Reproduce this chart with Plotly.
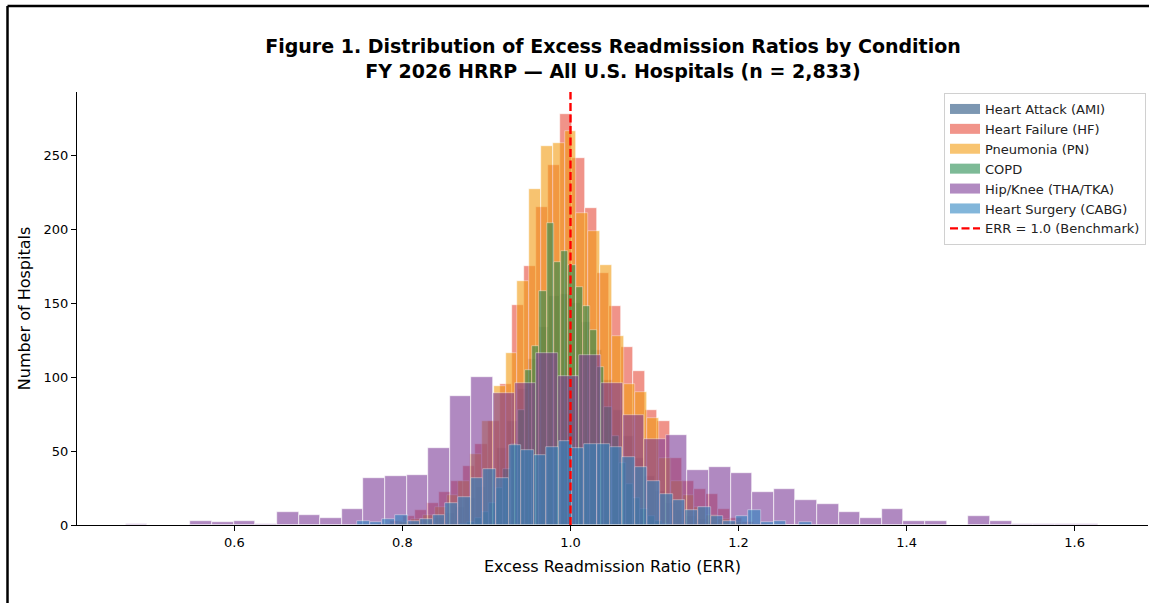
import numpy as np
import plotly.graph_objects as go

# ---- Data (histogram counts) ----
series_names = ["Heart Attack (AMI)", "Heart Failure (HF)", "Pneumonia (PN)",
                "COPD", "Hip/Knee (THA/TKA)", "Heart Surgery (CABG)"]

ami_start, ami_width = 0.8000, 0.0125
ami_counts = [1, 2, 3, 5, 8, 12, 18, 26, 38, 52, 70, 92, 112, 134, 155, 156,
              150, 137, 118, 98, 78, 60, 45, 33, 23, 15, 10, 6, 4, 2, 1, 1]

hf_start, hf_width = 0.77128, 0.01444
hf_counts = [1, 3, 6, 10, 15, 22, 30, 40, 55, 70, 95,
             149, 175, 215, 243, 278, 248, 214, 170, 148, 120, 104, 78, 70,
             45, 30, 24, 21, 11, 5, 2, 1]

pn_start, pn_width = 0.78226, 0.014048
pn_counts = [1, 2, 4, 7, 12, 20, 30, 48, 70,
             94, 116, 165, 227, 256, 258, 266, 211, 199, 176, 128, 95, 90, 72,
             45, 30, 20, 12, 7, 4, 2, 1]

copd_start, copd_width = 0.86869, 0.008583
copd_counts = [1, 2, 5, 9, 15, 25, 38, 55, 78, 105, 121,
               158, 204, 178, 185, 176, 161, 148, 132, 107, 80, 60, 42, 28,
               18, 11, 6, 3, 1]

hip_start, hip_width = 0.47060, 0.025714
hip_counts = [1, 0, 0, 3, 2, 3, 1, 9, 7, 5, 11, 32, 33, 34, 52, 87, 100, 89,
              96, 116, 101, 115, 96, 74, 58, 61, 37, 39, 35, 22, 24, 17, 14,
              9, 5, 11, 3, 3, 0, 6, 3, 1, 1, 1, 1]

cabg_start, cabg_width = 0.74602, 0.015024
cabg_counts = [3, 2, 4, 7, 3, 4, 7,
               15, 19, 32, 38, 32, 54, 51, 47, 53, 57, 52, 55, 55, 53, 46, 39,
               30, 21, 17, 10, 12, 6, 3, 6, 10, 2, 3, 0, 2]

benchmark = 1.0
benchmark_label = "ERR = 1.0 (Benchmark)"
x_ticks = [0.6, 0.8, 1.0, 1.2, 1.4, 1.6]
x_tick_labels = ["0.6", "0.8", "1.0", "1.2", "1.4", "1.6"]
y_ticks = [0, 50, 100, 150, 200, 250]
y_tick_labels = ["0", "50", "100", "150", "200", "250"]

colors = ["#24527e", "#e74c3c", "#f39c12", "#268c50", "#7d3c98", "#2e86c1"]

hists = [(ami_start, ami_width, ami_counts),
         (hf_start, hf_width, hf_counts),
         (pn_start, pn_width, pn_counts),
         (copd_start, copd_width, copd_counts),
         (hip_start, hip_width, hip_counts),
         (cabg_start, cabg_width, cabg_counts)]

FONT = "DejaVu Sans"
Y_MAX = 292.6
fig = go.Figure()

# histogram bars (overlaid, semi-transparent, white edges)
for name, color, (start, width, counts) in zip(series_names, colors, hists):
    left_edges = start + width * np.arange(len(counts))
    fig.add_trace(go.Bar(
        x=left_edges, y=counts, width=width, offset=0,
        name=name, opacity=0.6, showlegend=False,
        marker=dict(color=color, line=dict(color="white", width=0.6)),
    ))

# legend patches (wide rectangles like the reference)
for name, color in zip(series_names, colors):
    fig.add_trace(go.Scatter(
        x=[None], y=[None], mode="lines", name=name, opacity=0.6,
        line=dict(color=color, width=10),
    ))

fig.add_trace(go.Scatter(
    x=[benchmark, benchmark], y=[0, Y_MAX], mode="lines",
    name=benchmark_label,
    line=dict(color="#ff0000", width=2.4, dash="8px,3.5px"),
))

W, H = 1149, 603
ml, mr, mt, mb = 77, 1, 92, 78
pw, ph = W - ml - mr, H - mt - mb

def px_to_paper_x(px):
    return (px - ml) / pw

def py_to_paper_y(py):
    return (H - mb - py) / ph

# figure frame lines (left and top edge of the saved figure)
fig.add_shape(type="line", xref="paper", yref="paper",
              x0=px_to_paper_x(7.5), x1=px_to_paper_x(1160),
              y0=py_to_paper_y(6), y1=py_to_paper_y(6),
              line=dict(color="black", width=2.5))
fig.add_shape(type="line", xref="paper", yref="paper",
              x0=px_to_paper_x(7.5), x1=px_to_paper_x(7.5),
              y0=py_to_paper_y(6), y1=py_to_paper_y(620),
              line=dict(color="black", width=2.5))

fig.update_layout(
    width=W, height=H, autosize=False,
    margin=dict(l=ml, r=mr, t=mt, b=mb),
    paper_bgcolor="white", plot_bgcolor="white",
    barmode="overlay", bargap=0,
    font=dict(family=FONT, color="black", size=13),
    title=dict(
        text="<b>Figure 1. Distribution of Excess Readmission Ratios by Condition<br>"
             "FY 2026 HRRP — All U.S. Hospitals (n = 2,833)</b>",
        x=px_to_paper_x(613), xref="paper", xanchor="center",
        y=1 - 53 / H, yanchor="middle",
        font=dict(family=FONT, size=19, color="black"),
    ),
    legend=dict(
        x=px_to_paper_x(1146), xanchor="right",
        y=py_to_paper_y(93), yanchor="top",
        bgcolor="white", bordercolor="#d0d0d0", borderwidth=1,
        font=dict(family=FONT, size=13, color="#222"),
        tracegroupgap=0, itemwidth=30,
    ),
    showlegend=True,
)

fig.update_xaxes(
    range=[0.4127, 1.6873], tickvals=x_ticks, ticktext=x_tick_labels,
    showgrid=False, zeroline=False, showline=True, linecolor="black", linewidth=1.2,
    ticks="outside", ticklen=5, tickwidth=1.2, tickcolor="black",
    tickfont=dict(family=FONT, size=13),
    title=dict(text="Excess Readmission Ratio (ERR)", font=dict(family=FONT, size=16),
               standoff=12),
)
fig.update_yaxes(
    range=[0, Y_MAX], tickvals=y_ticks, ticktext=y_tick_labels,
    showgrid=False, zeroline=False, showline=True, linecolor="black", linewidth=1.2,
    ticks="outside", ticklen=5, tickwidth=1.2, tickcolor="black",
    tickfont=dict(family=FONT, size=13),
    title=dict(text="Number of Hospitals", font=dict(family=FONT, size=16),
               standoff=8),
)

fig.write_html("out.html")
